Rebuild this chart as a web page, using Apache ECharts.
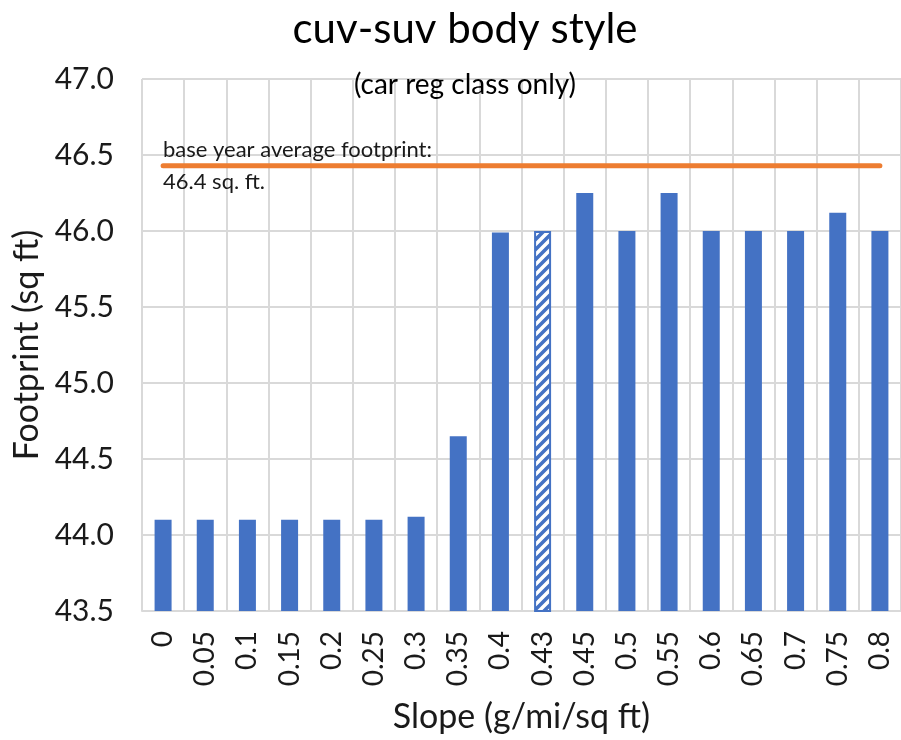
<!DOCTYPE html>
<html>
<head>
<meta charset="utf-8">
<script src="https://cdn.jsdelivr.net/npm/echarts@6/dist/echarts.min.js"></script>
<style>html,body{margin:0;padding:0;background:#fff}#c{width:901px;height:740px}</style>
</head>
<body>
<div id="c"></div>
<script>
var categories = ['0','0.05','0.1','0.15','0.2','0.25','0.3','0.35','0.4','0.43','0.45','0.5','0.55','0.6','0.65','0.7','0.75','0.8'];
var footprint = [44.10,44.10,44.10,44.10,44.10,44.10,44.12,44.65,45.99,46.00,46.25,46.00,46.25,46.00,46.00,46.00,46.12,46.00];
var hatchedCategory = '0.43';
var baseYearAverage = 46.43;
var titleText = 'cuv-suv body style';
var subtitleText = '(car reg class only)';
var annotationLines = ['base year average footprint:', '46.4 sq. ft.'];
var yAxisName = 'Footprint (sq ft)';
var xAxisName = 'Slope (g/mi/sq ft)';

var FONT = 'Lato';
var BLUE = '#4472C4';

var T = 10;
var tile = document.createElement('canvas');
tile.width = T; tile.height = T;
var g = tile.getContext('2d');
g.fillStyle = BLUE; g.fillRect(0,0,T,T);
g.strokeStyle = '#fff'; g.lineWidth = 3.5;
g.beginPath();
g.moveTo(-2,T+2); g.lineTo(T+2,-2);
g.moveTo(-T-2,T+2); g.lineTo(2,-2);
g.moveTo(T-2,T+2); g.lineTo(2*T+2,-2);
g.stroke();

var barData = footprint.map(function(v, i){
  if (categories[i] === hatchedCategory) {
    return {value: v, itemStyle: {color: {image: tile, repeat: 'repeat'}, borderColor: BLUE, borderWidth: 2}};
  }
  return v;
});
var lineData = categories.map(function(){ return baseYearAverage; });

var chart = echarts.init(document.getElementById('c'));
chart.setOption({
  animation: false,
  title: [
    {text: titleText, left: 460, top: 3, textAlign: 'center', textStyle: {fontFamily: FONT, fontSize: 42, fontWeight: 'normal', color: '#000'}},
    {text: subtitleText, left: 460, top: 66, textAlign: 'center', textStyle: {fontFamily: FONT, fontSize: 28, fontWeight: 'normal', color: '#000'}}
  ],
  grid: {left: 142, top: 79, width: 764, height: 532, containLabel: false},
  xAxis: {
    type: 'category', data: categories, boundaryGap: true,
    axisLine: {show: true, lineStyle: {color: '#D9D9D9', width: 2}},
    axisTick: {show: false},
    splitLine: {show: true, interval: 0, lineStyle: {color: '#D9D9D9', width: 2}},
    axisLabel: {interval: 0, rotate: 90, margin: 20, fontFamily: FONT, fontSize: 28, color: '#1a1a1a'},
    name: xAxisName, nameLocation: 'middle', nameGap: 89,
    nameTextStyle: {fontFamily: FONT, fontSize: 34, color: '#1a1a1a'}
  },
  yAxis: {
    type: 'value', min: 43.5, max: 47, interval: 0.5,
    axisLine: {show: false}, axisTick: {show: false},
    splitLine: {show: true, lineStyle: {color: '#D9D9D9', width: 2}},
    axisLabel: {margin: 28, fontFamily: FONT, fontSize: 30, color: '#1a1a1a', formatter: function(v){ return v.toFixed(1); }},
    name: yAxisName, nameLocation: 'middle', nameGap: 98,
    nameTextStyle: {fontFamily: FONT, fontSize: 34, color: '#1a1a1a'}
  },
  series: [
    {type: 'bar', data: barData, barWidth: 17, itemStyle: {color: BLUE}, z: 2},
    {type: 'line', data: lineData, showSymbol: false, symbol: 'none', lineStyle: {color: '#ED7D31', width: 5, cap: 'round'}, z: 3}
  ],
  graphic: [
    {type: 'text', left: 163, top: 139, z: 10, style: {text: annotationLines[0], font: '22px ' + FONT, fill: '#1a1a1a'}},
    {type: 'text', left: 163, top: 171, z: 10, style: {text: annotationLines[1], font: '22px ' + FONT, fill: '#1a1a1a'}}
  ]
});
</script>
</body>
</html>
